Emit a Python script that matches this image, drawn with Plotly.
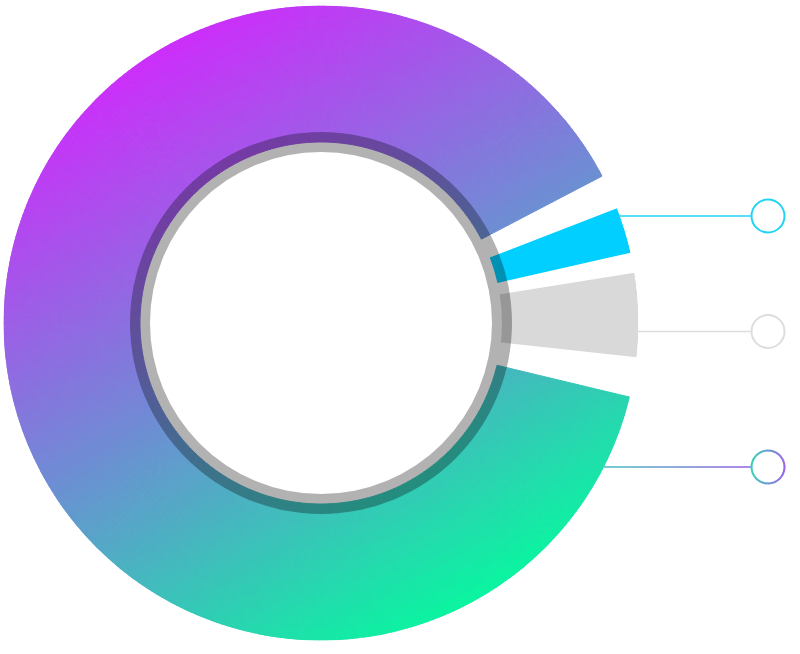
import numpy as np
import plotly.graph_objects as go

# ---------------- data ----------------
segment_names = ["Main", "Cyan", "Grey"]
segment_theta_start = [27.6, 12.8, -6.2]     # degrees, counter-clockwise from east
segment_theta_end = [346.5, 21.2, 9.1]
segment_colors = [None, "#00cfff", "#d9d9d9"]  # None -> gradient fill

# ---------------- layout constants ----------------
W, H = 800, 654
CX, CY = 321, 323          # pixel centre of the donut
R_OUT = 317.5
R_IN = 181.0
RING_IN, RING_OUT = 171.0, 191.0

grad_stops = [(0.0, (204, 46, 250)), (0.5, (111, 140, 212)), (1.0, (10, 245, 160))]


def grad_color(t):
    t = min(max(t, 0.0), 1.0)
    for (a, ca), (b, cb) in zip(grad_stops[:-1], grad_stops[1:]):
        if t <= b:
            f = (t - a) / (b - a)
            c = [round(ca[k] + (cb[k] - ca[k]) * f) for k in range(3)]
            return "rgb(%d,%d,%d)" % tuple(c)
    return "rgb(%d,%d,%d)" % grad_stops[-1][1]


def grad_t(x, y):
    # linear gradient from top-left to bottom-right (60 deg below horizontal)
    return ((x * 0.5 - y * 0.866) + R_OUT) / (2 * R_OUT)


fig = go.Figure()

# gradient segment built of small polar cells
th0, th1 = segment_theta_start[0], segment_theta_end[0]
ang_edges = np.linspace(th0, th1, 321)
rad_edges = np.linspace(R_IN, R_OUT, 13)
thetas, widths, bases, rs, cols = [], [], [], [], []
for a0, a1 in zip(ang_edges[:-1], ang_edges[1:]):
    ac = (a0 + a1) / 2
    for r0, r1 in zip(rad_edges[:-1], rad_edges[1:]):
        rc = (r0 + r1) / 2
        x = rc * np.cos(np.radians(ac))
        y = rc * np.sin(np.radians(ac))
        thetas.append(ac % 360)
        widths.append(a1 - a0)
        bases.append(r0)
        rs.append(r1 - r0)
        cols.append(grad_color(grad_t(x, y)))

fig.add_trace(go.Barpolar(
    theta=thetas, width=widths, base=bases, r=rs,
    marker=dict(color=cols, line=dict(color=cols, width=1.0)),
    name=segment_names[0], hoverinfo="skip", showlegend=False,
))

# solid segments
for name, s, e, c in zip(segment_names[1:], segment_theta_start[1:],
                         segment_theta_end[1:], segment_colors[1:]):
    fig.add_trace(go.Barpolar(
        theta=[(s + e) / 2], width=[e - s], base=[R_IN], r=[R_OUT - R_IN],
        marker=dict(color=c, line=dict(width=0)),
        name=name, showlegend=False,
    ))

# translucent inner ring
fig.add_trace(go.Barpolar(
    theta=[0], width=[360], base=[RING_IN], r=[RING_OUT - RING_IN],
    marker=dict(color="rgba(0,0,0,0.3)", line=dict(width=0)),
    hoverinfo="skip", showlegend=False,
))

# ---------------- leader lines and circles ----------------
leader_y = [216, 331.5, 467]
leader_x0 = [619, 636, 604]
leader_colors = [("#22d4f3", "#22d4f3"), ("#dddddd", "#dddddd"), ("#4fc3c4", "#9d68e3")]
circle_cx = 768
circle_r = 16.5


def mix(c1, c2, f):
    a = [int(c1[i:i + 2], 16) for i in (1, 3, 5)]
    b = [int(c2[i:i + 2], 16) for i in (1, 3, 5)]
    return "rgb(%d,%d,%d)" % tuple(round(a[k] + (b[k] - a[k]) * f) for k in range(3))


shapes = []
for y, x0, (c1, c2) in zip(leader_y, leader_x0, leader_colors):
    x1 = circle_cx - circle_r
    n = 20 if c1 != c2 else 1
    xs = np.linspace(x0, x1, n + 1)
    for i in range(n):
        f = (i + 0.5) / n
        shapes.append(dict(type="line", xref="x", yref="y",
                           x0=xs[i], x1=xs[i + 1] + (0.3 if n > 1 else 0), y0=y, y1=y,
                           line=dict(color=mix(c1, c2, f), width=1.6), layer="above"))
    if c1 == c2:
        shapes.append(dict(type="circle", xref="x", yref="y",
                           x0=circle_cx - circle_r, x1=circle_cx + circle_r,
                           y0=y - circle_r, y1=y + circle_r,
                           line=dict(color=c1, width=2), layer="above"))
    else:
        m = 48
        angs = np.linspace(0, 2 * np.pi, m + 1)
        for i in range(m):
            a0, a1 = angs[i], angs[i + 1] + 0.02
            px0 = circle_cx + circle_r * np.cos(a0)
            py0 = y - circle_r * np.sin(a0)
            px1 = circle_cx + circle_r * np.cos(a1)
            py1 = y - circle_r * np.sin(a1)
            f = (np.cos((a0 + a1) / 2) + 1) / 2
            shapes.append(dict(type="path", xref="x", yref="y",
                               path="M %.2f,%.2f L %.2f,%.2f" % (px0, py0, px1, py1),
                               line=dict(color=mix("#35d0b8", "#9a62e8", f), width=2),
                               layer="above"))

fig.update_layout(
    width=W, height=H,
    margin=dict(l=0, r=0, t=0, b=0),
    paper_bgcolor="white", plot_bgcolor="rgba(0,0,0,0)",
    showlegend=False,
    polar=dict(
        domain=dict(x=[(CX - R_OUT) / W, (CX + R_OUT) / W],
                    y=[(H - CY - R_OUT) / H, (H - CY + R_OUT) / H]),
        bgcolor="rgba(0,0,0,0)",
        barmode="overlay",
        hole=0,
        radialaxis=dict(range=[0, R_OUT], visible=False, showgrid=False),
        angularaxis=dict(visible=False, rotation=0, direction="counterclockwise",
                         showgrid=False),
    ),
    xaxis=dict(range=[0, W], visible=False, domain=[0, 1], fixedrange=True),
    yaxis=dict(range=[H, 0], visible=False, domain=[0, 1], fixedrange=True),
    shapes=shapes,
)

fig.write_html("out.html", config={"displayModeBar": False},
               post_script="document.body.style.margin='0';document.body.style.overflow='hidden';")
